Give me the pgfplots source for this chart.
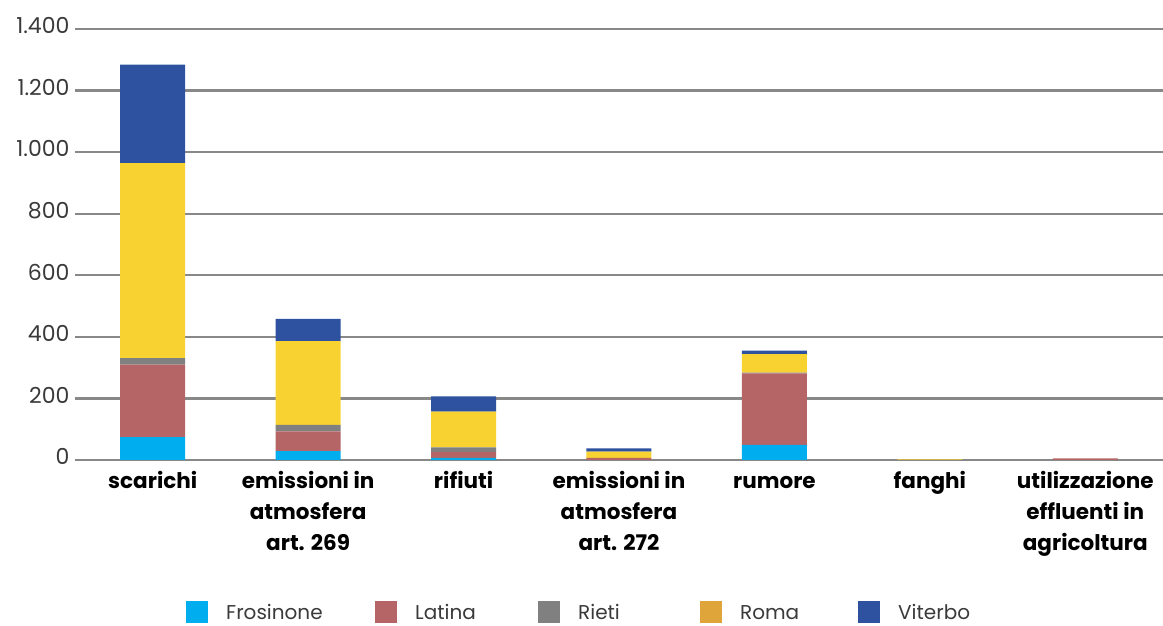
\documentclass[border=0pt]{standalone}
\usepackage{pgfplots}
\pgfplotsset{compat=1.18}
\usepackage{fontspec}
\setmainfont{Poppins}
\definecolor{fros}{HTML}{00AEEF}
\definecolor{lat}{HTML}{B56565}
\definecolor{rie}{HTML}{808080}
\definecolor{roma}{HTML}{F7D231}
\definecolor{romaleg}{HTML}{E0A53A}
\definecolor{vit}{HTML}{2E52A0}
\definecolor{txt}{HTML}{3A3A3A}
\definecolor{grid}{HTML}{888888}
\begin{document}
\begin{tikzpicture}
\begin{axis}[
  at={(75pt,166pt)}, anchor=south west,
  scale only axis, width=1088pt, height=431pt,
  ybar stacked, bar width=65pt,
  xmin=-0.5, xmax=6.5, ymin=0, ymax=1400,
  xtick={0,1,2,3,4,5,6},
  xticklabels={scarichi,{emissioni in\\atmosfera\\art. 269},rifiuti,{emissioni in\\atmosfera\\art. 272},rumore,fanghi,{utilizzazione\\effluenti in\\agricoltura}},
  typeset ticklabels with strut,
  xticklabel style={align=center, font=\fontsize{21.5}{31}\selectfont\bfseries, text=black, anchor=north, yshift=-3pt},
  ytick={0,200,...,1400},
  yticklabel style={font=\fontsize{22}{24}\selectfont, text=txt, xshift=-2pt},
  /pgf/number format/.cd, 1000 sep={.}, assume math mode=true, /pgfplots/.cd,
  axis line style={draw=none},
  major tick length=0pt,
  ymajorgrids, grid style={draw=grid, line width=2.4pt},
  every axis plot/.append style={draw=none},
  legend image code/.code={\fill[#1] (0pt,-11pt) rectangle (22pt,11pt);},
  legend columns=5,
  legend style={at={(axis description cs:0.102,-0.352)}, anchor=west, draw=none, inner sep=0pt,
    font=\fontsize{20}{24}\selectfont, text=txt,
    /tikz/every odd column/.append style={column sep=16pt},
    /tikz/every even column/.append style={column sep=0pt}},
  legend cell align=left,
]
\addplot+[fill=fros, forget plot] coordinates {(0,74) (1,29) (2,7) (3,0) (4,49) (5,0) (6,0)};
\addplot+[fill=lat, forget plot] coordinates {(0,236) (1,64) (2,19) (3,7) (4,232) (5,0) (6,5)};
\addplot+[fill=rie, forget plot] coordinates {(0,21) (1,21) (2,15) (3,0) (4,3) (5,0) (6,0)};
\addplot+[fill=roma, forget plot] coordinates {(0,633) (1,272) (2,116) (3,20) (4,60) (5,2) (6,0)};
\addplot+[fill=vit, forget plot] coordinates {(0,320) (1,72) (2,50) (3,11) (4,11) (5,0) (6,0)};
\addlegendimage{fill=fros}
\addlegendentry{\makebox[147pt][l]{\strut Frosinone}}
\addlegendimage{fill=lat}
\addlegendentry{\makebox[121pt][l]{\strut Latina}}
\addlegendimage{fill=rie}
\addlegendentry{\makebox[120pt][l]{\strut Rieti}}
\addlegendimage{fill=romaleg}
\addlegendentry{\makebox[116pt][l]{\strut Roma}}
\addlegendimage{fill=vit}
\addlegendentry{\strut Viterbo}
\end{axis}
\pgfresetboundingbox
\useasboundingbox (0pt,0pt) rectangle (1163pt,626pt);
\end{tikzpicture}
\end{document}
